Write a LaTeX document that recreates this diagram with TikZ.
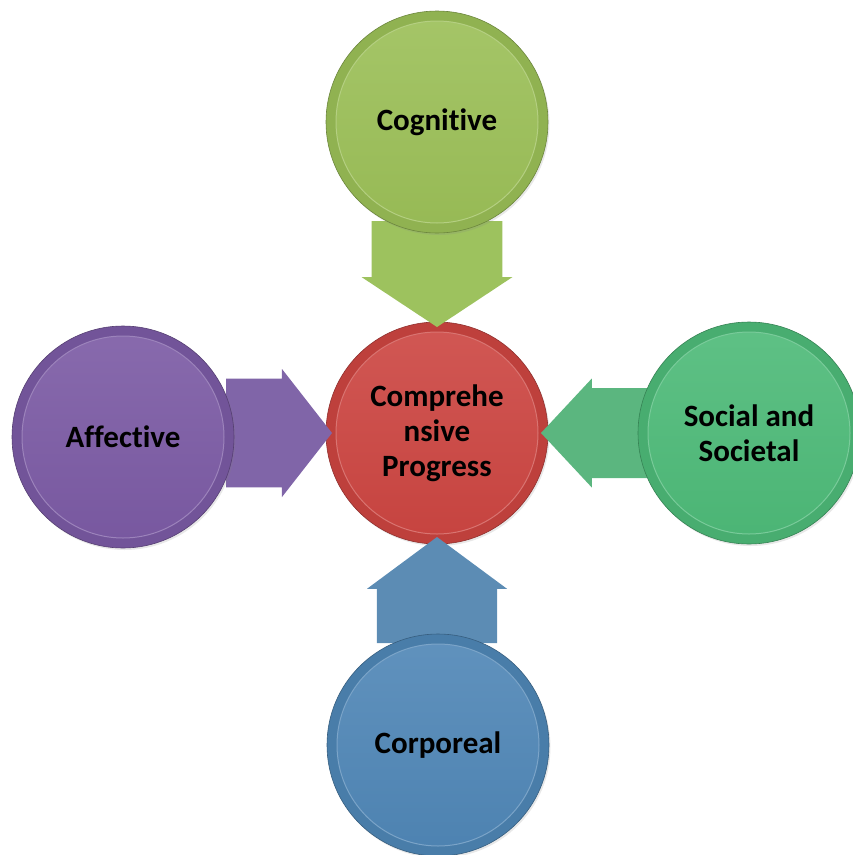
\documentclass[tikz,border=0pt]{standalone}
\usepackage{fontspec}
\setmainfont{Carlito}[Ligatures=NoCommon]
\usepackage{tikz}
\usetikzlibrary{shapes.arrows,calc,shadows}

\definecolor{cogGreen}{HTML}{9BBF57}
\definecolor{progRed}{HTML}{CC4541}
\definecolor{affPurple}{HTML}{7B5AA4}
\definecolor{socGreen}{HTML}{4DBA78}
\definecolor{corBlue}{HTML}{4F86B6}
\definecolor{cogArrow}{HTML}{9DC25E}
\definecolor{affArrow}{HTML}{8065A8}
\definecolor{socArrow}{HTML}{5BB67F}
\definecolor{corArrow}{HTML}{5C8CB4}

\tikzset{
  ball/.style={circle, minimum size=222pt, inner sep=0pt, outer sep=0pt,
    fill=#1!93!black, draw=#1!70!black, line width=0.6pt,
    drop shadow={opacity=0.18, shadow xshift=1.5pt, shadow yshift=-2pt},
    font=\fontsize{31}{35}\selectfont\bfseries, align=center, text=black,
    path picture={
      \shade[top color=#1!90!white, bottom color=#1!97!black,
        draw=#1!75!white, line width=1pt]
        (path picture bounding box.center) circle (101pt);
    }},
  blockarrow/.style={single arrow, fill=#1, draw=none, minimum height=106pt,
    inner xsep=0pt, outer sep=0pt, anchor=tip}
}

\begin{document}
\begin{tikzpicture}[x=1pt,y=-1pt]
  \clip (0,0) rectangle (853,855);
  % centre
  \node[ball=progRed] (prog) at (437,433) {Comprehe\\nsive\\Progress};
  % block arrows, tips on the centre circle
  \node[blockarrow=cogArrow, rotate=-90, inner ysep=46pt, minimum width=151pt,
    single arrow tip angle=113]
    (arrcog) at ($(prog.north)+(0,5)$) {};
  \node[blockarrow=affArrow, inner ysep=39.5pt, minimum width=128pt,
    single arrow tip angle=104]
    (arraff) at ($(prog.west)+(6,0)$) {};
  \node[blockarrow=socArrow, rotate=180, inner ysep=33.5pt, minimum width=109pt,
    single arrow tip angle=94]
    (arrsoc) at ($(prog.east)+(-7,0)$) {};
  \node[blockarrow=corArrow, rotate=90, inner ysep=42.5pt, minimum width=140pt,
    single arrow tip angle=107]
    (arrcor) at ($(prog.south)+(0,-7)$) {};
  % outer circles
  \node[ball=cogGreen] (cog) at (437,122) {Cognitive};
  \node[ball=affPurple] (aff) at (123,437) {Affective};
  \node[ball=socGreen] (soc) at (749,433) {Social and\\Societal};
  \node[ball=corBlue] (cor) at (438,745) {Corporeal};
\end{tikzpicture}
\end{document}
